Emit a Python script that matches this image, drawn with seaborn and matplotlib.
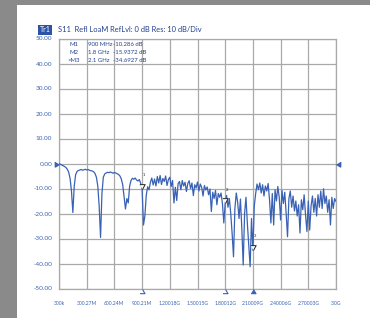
import numpy as np
import matplotlib
matplotlib.use("Agg")
import matplotlib.pyplot as plt
import seaborn as sns
from matplotlib.patches import Rectangle

sns.set_theme(style="white")
plt.rcParams['font.family'] = ['Lato', 'DejaVu Sans']

# S11 trace (dB), 201 sweep points from 300 kHz to 3 GHz
s11 = [
    0.0, -0.3, -0.6, -0.9, -1.2, -1.6, -2.3, -3.5, -6.0, -11.0,
    -19.6, -9.0, -4.5, -3.2, -2.8, -2.6, -2.4, -2.7, -2.5, -2.3,
    -2.6, -2.4, -2.7, -2.9, -3.0, -3.3, -4.0, -5.5, -9.0, -17.0,
    -29.6, -12.0, -5.5, -4.2, -3.8, -3.5, -3.7, -3.4, -3.6, -3.9,
    -3.6, -3.8, -4.1, -4.4, -5.0, -6.2, -8.5, -13.5, -18.2, -14.0,
    -15.8, -9.0, -6.8, -5.9, -6.3, -5.8, -6.6, -7.0, -6.4, -8.0,
    -10.3, -24.6, -21.0, -12.7, -9.3, -10.5, -7.5, -5.8, -8.6, -6.2,
    -9.0, -5.2, -7.8, -4.8, -8.4, -6.0, -7.2, -5.0, -8.8, -6.4,
    -5.5, -9.2, -6.8, -15.8, -9.5, -14.8, -8.0, -7.2, -10.5, -6.8,
    -9.0, -7.5, -11.2, -8.0, -6.9, -10.0, -7.8, -12.8, -8.5, -9.8,
    -7.4, -11.0, -8.2, -9.5, -13.0, -8.8, -10.6, -9.4, -12.5, -10.2,
    -19.2, -11.5, -14.0, -10.8, -16.5, -12.0, -13.5, -11.8, -16.0, -23.8,
    -15.94, -12.8, -17.5, -14.0, -20.0, -28.0, -37.3, -18.0, -11.8, -15.5,
    -22.0, -14.2, -26.0, -40.6, -20.0, -13.5, -24.0, -33.0, -41.3, -22.0,
    -34.69, -17.0, -12.0, -8.2, -10.5, -7.8, -11.8, -8.5, -13.0, -9.0,
    -11.0, -8.0, -14.5, -23.8, -12.0, -24.6, -10.5, -15.0, -9.2, -13.5,
    -22.6, -10.8, -16.0, -11.5, -20.0, -29.3, -14.0, -11.0, -17.5, -13.0,
    -19.0, -15.0, -21.0, -16.5, -27.8, -14.5, -18.5, -12.5, -20.5, -27.2,
    -15.0, -26.6, -17.0, -13.0, -19.5, -14.0, -21.0, -12.5, -17.5, -11.0,
    -18.0, -10.1, -16.0, -13.0, -19.5, -14.5, -24.6, -13.5, -18.0, -14.0,
    -15.2,
]
freq = np.linspace(0.0003, 3.0, len(s11))  # GHz

xticks = [0.0003, 0.30027, 0.60024, 0.90021, 1.20018, 1.50015,
          1.80012, 2.10009, 2.40006, 2.70003, 3.0]
xlabels = ["300k", "300.27M", "600.24M", "900.21M", "1.20018G", "1.50015G",
           "1.80012G", "2.10009G", "2.40006G", "2.70003G", "3.0G"]
yticks = [50, 40, 30, 20, 10, 0, -10, -20, -30, -40, -50]

mk_names = ["M1", "M2", ">M3"]
mk_freq = [0.9, 1.8, 2.1]
mk_val = [-10.286, -15.9372, -34.6927]
mk_ftxt = ["900 MHz", "1.8 GHz", "2.1 GHz"]

blue = '#3a62b4'
navy = '#22408f'
grid = '#a9a9a9'

fig = plt.figure(figsize=(3.70, 3.18), dpi=100, facecolor='#8a8a8a')
fig.patches.append(Rectangle((17 / 370, 0), 1, 1 - 4.5 / 318,
                             transform=fig.transFigure, facecolor='white',
                             edgecolor='none', zorder=-5))
ax = fig.add_axes([59 / 370, 29.5 / 318, 277 / 370, 250 / 318])
ax.set_facecolor('white')

sns.lineplot(x=freq, y=s11, ax=ax, color=blue, lw=0.9, zorder=3)

ax.set_xlim(0.0003, 3.0)
ax.set_ylim(-50, 50)
ax.set_xticks(xticks)
ax.set_xticklabels(xlabels)
ax.set_yticks(yticks)
ax.set_yticklabels([f"{v:.2f}" for v in yticks])
ax.tick_params(axis='y', length=0, pad=5, labelsize=4.6, labelcolor=blue)
ax.tick_params(axis='x', length=0, pad=9, labelsize=3.6, labelcolor=blue)
ax.grid(True, color=grid, lw=0.9)
for sp in ax.spines.values():
    sp.set_color(grid)
    sp.set_linewidth(0.9)
ax.set_xlabel("")
ax.set_ylabel("")

# marker triangles on trace (tip at the point)
tri_down = [(-0.55, 1.0), (0.55, 1.0), (0.0, 0.0)]
for i, (f, v) in enumerate(zip(mk_freq, mk_val)):
    ax.plot(f, v, marker=tri_down, ms=7, mfc='white', mec='#222222',
            mew=0.7, zorder=5)
    ax.annotate(str(i + 1), (f, v), xytext=(1.5, 8.5),
                textcoords='offset points', fontsize=3, color='#222222',
                ha='center', va='bottom', zorder=6)

# marker triangles below the axis
tri_up = [(-0.6, -1.0), (0.6, -1.0), (0.0, 0.0)]
for i, f in enumerate(mk_freq):
    filled = i == 2
    ax.plot(f, -50, marker=tri_up, ms=6, mfc=blue if filled else 'white',
            mec=blue, mew=0.8, clip_on=False, zorder=5)

# reference level markers
ax.plot(0.0003, 0, marker=[(-1.0, 0.6), (-1.0, -0.6), (0.0, 0.0)], ms=6,
        color=blue, clip_on=False, zorder=5)
ax.plot(3.0, 0, marker=[(1.0, 0.6), (1.0, -0.6), (0.0, 0.0)], ms=6,
        color=blue, clip_on=False, zorder=5)

# marker readout table
for i in range(3):
    y = 1 - (44.7 + 8 * i) / 318
    x0 = 70 if i < 2 else 67
    fig.text(x0 / 370, y, mk_names[i], fontsize=4.3, color=navy, va='center')
    fig.text(88 / 370, y, mk_ftxt[i], fontsize=4.3, color=navy, va='center')
    val = f"{mk_val[i]:.3f}" if i == 0 else f"{mk_val[i]:.4f}"
    fig.text(113 / 370, y, f"{val} dB", fontsize=4.3, color=navy, va='center')

# header
fig.text(39.5 / 370, 1 - 30 / 318, "Tr1", fontsize=5, color='white',
         va='center', bbox=dict(facecolor='#2d53a6', edgecolor='none', pad=0.9))
fig.text(58 / 370, 1 - 30 / 318, "S11  Refl LoaM RefLvl: 0 dB Res: 10 dB/Div",
         fontsize=5.4, color=navy, va='center')

fig.savefig("out.png", dpi=100, facecolor=fig.get_facecolor())
